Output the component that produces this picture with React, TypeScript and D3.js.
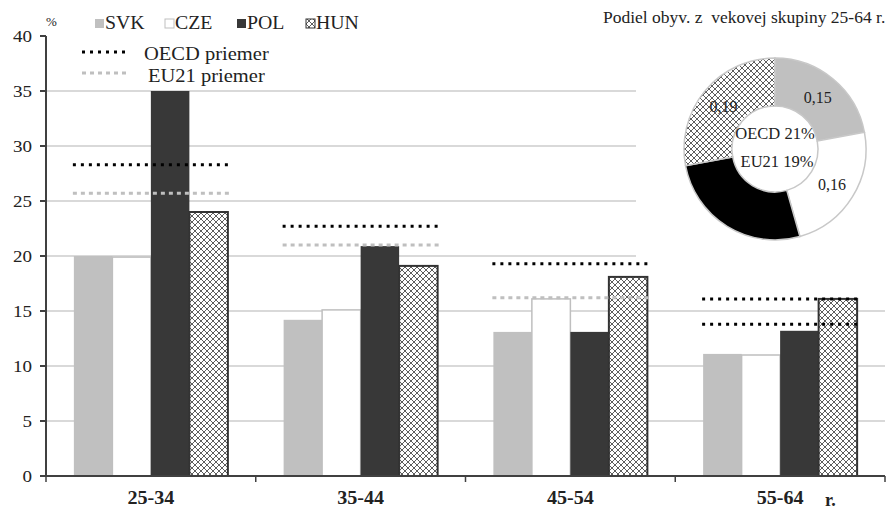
import React from "react";
import * as d3 from "d3";

const categories = ["25-34", "35-44", "45-54", "55-64"];
const seriesNames = ["SVK", "CZE", "POL", "HUN"];
const svk = [20, 14.2, 13.1, 11.1];
const cze = [19.9, 15.1, 16.1, 11];
const pol = [35, 20.9, 13.1, 13.2];
const hun = [24, 19.1, 18.1, 16.1];
const oecdAvg = [28.3, 22.7, 19.3, 16.1];
const eu21Avg = [25.7, 21.0, 16.2, 13.8];
const yTicks = [0, 5, 10, 15, 20, 25, 30, 35, 40];
const pieValues = [0.15, 0.16, 0.18, 0.19];
const pieLabels = ["0,15", "0,16", "0,18", "0,19"];
const pieCenterLines = ["OECD 21%", "EU21 19%"];
const title = "Podiel obyv. z  vekovej skupiny 25-64 r.";

const FONT = "'Liberation Serif', 'Times New Roman', serif";

const W = 893;
const H = 511;
const left = 46;
const right = 885;
const bottom = 476;
const top = 36;

const fills = ["#c0c0c0", "#ffffff", "#383838", "url(#hatch)"];
const strokes = ["none", "#bfbfbf", "none", "#333333"];
const strokeWs = [0, 1.5, 0, 2];
const pieFills = ["#c0c0c0", "#ffffff", "#000000", "url(#hatch)"];
const pieText = ["#222", "#222", "#000", "#222"];

function T(props: any) {
  const { x, y, sx = 1, size = 16, anchor = "start", weight = "normal", fill = "#222", children, pre } = props;
  return (
    <text
      transform={`translate(${x},${y}) scale(${sx},1)`}
      fontFamily={FONT}
      fontSize={size}
      fontWeight={weight}
      textAnchor={anchor}
      fill={fill}
      style={pre ? { whiteSpace: "pre" } : undefined}
    >
      {children}
    </text>
  );
}

export default function App() {
  const x = d3.scaleBand<string>().domain(categories).range([left, right]).paddingInner(0).paddingOuter(0);
  const xi = d3.scaleBand<string>().domain(seriesNames).range([0, x.bandwidth()]).paddingInner(0).paddingOuter(0.724);
  const y = d3.scaleLinear().domain([0, 40]).range([bottom, top]);
  const data = [svk, cze, pol, hun];

  const pie = d3.pie<number>().sort(null).value((d) => d).startAngle(0).endAngle(2 * Math.PI);
  const arcs = pie(pieValues);
  const arc = d3.arc<any>().innerRadius(43).outerRadius(91);
  const cx = 775;
  const cy = 149;

  const lineStart = (c: string) => (x(c) as number) + xi.paddingOuter() * xi.step() - 1;
  const lineEnd = (c: string) => lineStart(c) + 158;

  return (
    <svg width={W} height={H} style={{ position: "absolute", left: 0, top: 0, background: "#fff" }}>
      <defs>
        <pattern id="hatch" patternUnits="userSpaceOnUse" width={6} height={6}>
          <rect width={6} height={6} fill="#fff" />
          <path d="M0,0 L6,6 M6,0 L0,6 M-1,5 L1,7 M5,-1 L7,1 M-1,1 L1,-1 M5,7 L7,5" stroke="#333" strokeWidth={0.8} />
        </pattern>
      </defs>
      <rect x={0} y={0} width={W} height={H} fill="#fff" />

      {/* gridlines */}
      {yTicks.filter((t) => t > 0 && t < 40).map((t) => (
        <line key={t} x1={left} x2={right} y1={y(t)} y2={y(t)} stroke="#d9d9d9" strokeWidth={2} />
      ))}

      {/* pie area background */}
      <rect x={636} y={0} width={W - 636} height={260} fill="#fff" />

      {/* bars */}
      {categories.map((c, ci) =>
        seriesNames.map((s, si) => {
          const v = data[si][ci];
          const bx = (x(c) as number) + (xi(s) as number);
          return (
            <rect
              key={c + s}
              x={bx}
              y={y(v)}
              width={xi.bandwidth()}
              height={bottom - y(v)}
              fill={fills[si]}
              stroke={strokes[si]}
              strokeWidth={strokeWs[si]}
            />
          );
        })
      )}

      {/* average lines */}
      {categories.map((c, ci) => (
        <g key={"avg" + c}>
          <line x1={lineStart(c)} x2={lineEnd(c)} y1={y(eu21Avg[ci])} y2={y(eu21Avg[ci])}
            stroke={ci === 3 ? "#000" : "#bfbfbf"} strokeWidth={3} strokeDasharray={ci === 3 ? "3 5" : "4 4"} />
          <line x1={lineStart(c)} x2={lineEnd(c)} y1={y(oecdAvg[ci])} y2={y(oecdAvg[ci])}
            stroke="#000" strokeWidth={3} strokeDasharray="3 5" />
        </g>
      ))}

      {/* y axis */}
      <line x1={left} x2={left} y1={top} y2={bottom} stroke="#404040" strokeWidth={2} />
      {yTicks.map((t) => (
        <g key={"yt" + t}>
          <line x1={left - 6} x2={left} y1={y(t)} y2={y(t)} stroke="#404040" strokeWidth={2} />
          <T x={32} y={y(t) + 6} sx={1.12} size={17} anchor="end">{String(t)}</T>
        </g>
      ))}

      {/* x axis */}
      <line x1={left} x2={right} y1={bottom} y2={bottom} stroke="#404040" strokeWidth={2} />
      {[...categories.map((c) => x(c) as number), right].map((v, i) => (
        <line key={"xt" + i} x1={v} x2={v} y1={bottom} y2={bottom + 6} stroke="#404040" strokeWidth={1.5} />
      ))}
      {categories.map((c) => (
        <T key={"xl" + c} x={(x(c) as number) + x.bandwidth() / 2} y={504} sx={1.06} size={19} weight="bold" anchor="middle">{c}</T>
      ))}
      <T x={825} y={506} size={18} weight="bold">r.</T>

      {/* unit */}
      <T x={46} y={26} size={13}>%</T>

      {/* legend */}
      {seriesNames.map((s, si) => {
        const lx = [95, 165, 237, 306][si];
        return (
          <g key={"lg" + s}>
            <rect x={lx} y={19} width={9} height={9} fill={fills[si]} stroke={si === 1 ? "#bfbfbf" : si === 3 ? "#333" : "none"} strokeWidth={1} />
            <T x={lx + 10} y={29} size={18} sx={1.1}>{s}</T>
          </g>
        );
      })}
      <line x1={82} x2={130} y1={52} y2={52} stroke="#000" strokeWidth={3} strokeDasharray="3 5" />
      <T x={144} y={60} size={19} sx={1.08}>OECD priemer</T>
      <line x1={82} x2={130} y1={73} y2={73} stroke="#bfbfbf" strokeWidth={3} strokeDasharray="4 4" />
      <T x={148} y={82} size={19} sx={1.08}>EU21 priemer</T>

      {/* pie */}
      <T x={603} y={23} size={17} sx={1.03} pre>{title}</T>
      <g transform={`translate(${cx},${cy})`}>
        {arcs.map((a, i) => (
          <path key={"arc" + i} d={arc(a) as string} fill={pieFills[i]} stroke="#c8c8c8" strokeWidth={1.5} />
        ))}
        {arcs.map((a, i) => {
          const [px, py] = arc.centroid(a);
          return (
            <T key={"pl" + i} x={px} y={py + 6} size={16} anchor="middle" fill={pieText[i]}>{pieLabels[i]}</T>
          );
        })}
        <T x={0} y={-10} size={16.5} anchor="middle">{pieCenterLines[0]}</T>
        <T x={2} y={18} size={16.5} anchor="middle">{pieCenterLines[1]}</T>
      </g>
    </svg>
  );
}
